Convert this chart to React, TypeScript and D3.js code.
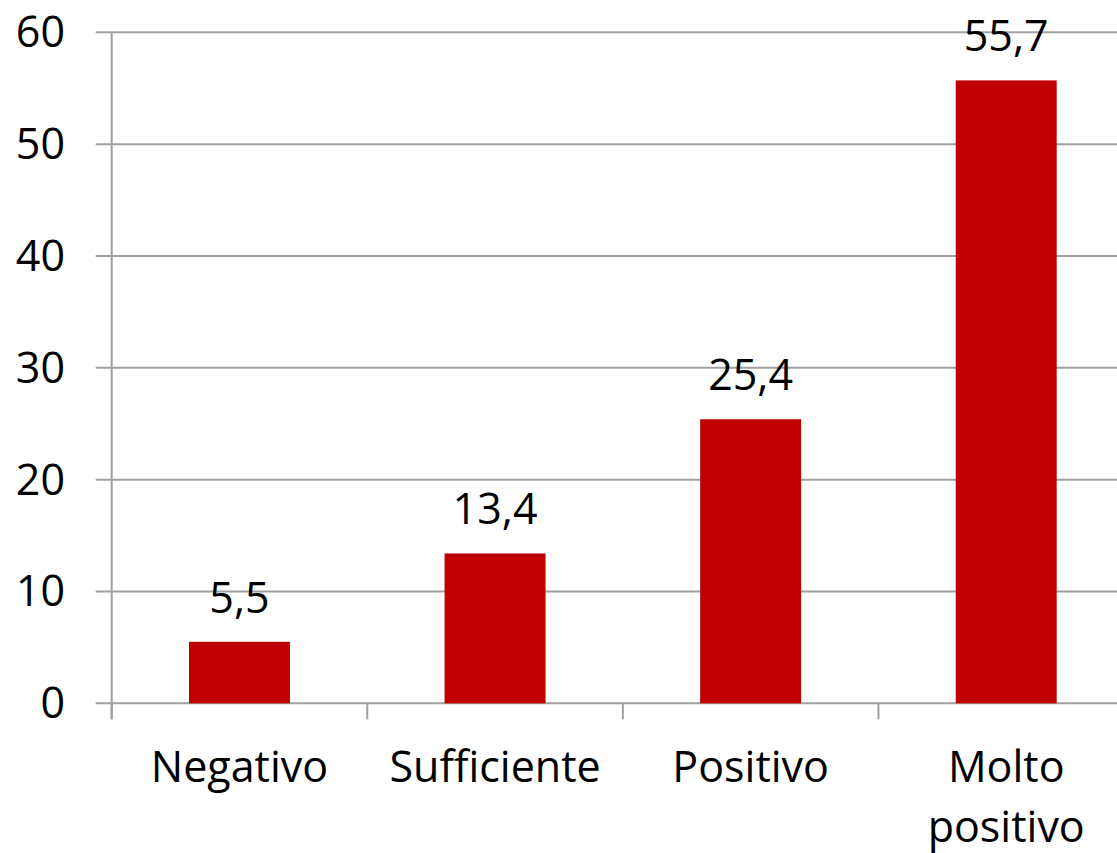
import React, { useEffect, useRef } from 'react';
import * as d3 from 'd3';

// chart data
const categories = ['Negativo', 'Sufficiente', 'Positivo', 'Molto positivo'];
const values = [5.5, 13.4, 25.4, 55.7];
const yTicks = [0, 10, 20, 30, 40, 50, 60];

const W = 1117;
const H = 853;
const FONT = '"Open Sans", sans-serif';

function App() {
  const ref = useRef<SVGSVGElement>(null);

  useEffect(() => {
    const svg = d3.select(ref.current);
    svg.selectAll('*').remove();

    var margin = { top: 32.3, left: 111.7, bottom: 149.7 };
    var plotRight = 1134; // plot runs past the canvas edge
    var height = H - margin.top - margin.bottom;

    var x = d3.scaleBand<string>()
      .domain(categories)
      .range([margin.left, plotRight])
      .paddingInner(0.605)
      .paddingOuter(0.3025);

    var bandStep = (plotRight - margin.left) / categories.length;

    var y = d3.scaleLinear()
      .domain([0, 60])
      .range([margin.top + height, margin.top]);

    // gridlines + left ticks
    svg.append('g')
      .selectAll('line')
      .data(yTicks)
      .enter()
      .append('line')
      .attr('x1', margin.left - 16)
      .attr('x2', W)
      .attr('y1', d => y(d))
      .attr('y2', d => y(d))
      .attr('stroke', '#a0a0a0')
      .attr('stroke-width', 2);

    // y axis line
    svg.append('line')
      .attr('x1', margin.left)
      .attr('x2', margin.left)
      .attr('y1', y(60))
      .attr('y2', y(0) + 16)
      .attr('stroke', '#a0a0a0')
      .attr('stroke-width', 2);

    // category ticks below axis
    svg.append('g')
      .selectAll('line')
      .data(categories)
      .enter()
      .append('line')
      .attr('x1', (d, i) => margin.left + bandStep * i)
      .attr('x2', (d, i) => margin.left + bandStep * i)
      .attr('y1', y(0))
      .attr('y2', y(0) + 16)
      .attr('stroke', '#a0a0a0')
      .attr('stroke-width', 2);

    // y labels
    svg.append('g')
      .selectAll('text')
      .data(yTicks)
      .enter()
      .append('text')
      .attr('x', 65)
      .attr('y', d => y(d) + 15)
      .attr('text-anchor', 'end')
      .style('font-family', FONT)
      .style('font-size', '43px')
      .attr('fill', '#000')
      .text(d => d);

    // bars
    svg.append('g')
      .selectAll('rect')
      .data(values)
      .enter()
      .append('rect')
      .attr('x', (d, i) => x(categories[i])!)
      .attr('width', x.bandwidth())
      .attr('y', d => y(d))
      .attr('height', d => y(0) - y(d))
      .attr('fill', '#c00000');

    // value labels
    svg.append('g')
      .selectAll('text')
      .data(values)
      .enter()
      .append('text')
      .attr('x', (d, i) => x(categories[i])! + x.bandwidth() / 2)
      .attr('y', d => y(d) - 29)
      .attr('text-anchor', 'middle')
      .style('font-family', FONT)
      .style('font-size', '43px')
      .attr('fill', '#000')
      .text(d => String(d).replace('.', ','));

    // category labels (wrap "Molto positivo")
    categories.forEach((c, i) => {
      var cx = x(c)! + x.bandwidth() / 2;
      var words = c === 'Molto positivo' ? ['Molto', 'positivo'] : [c];
      words.forEach((w, j) => {
        svg.append('text')
          .attr('x', cx)
          .attr('y', 782 + j * 60)
          .attr('text-anchor', 'middle')
          .style('font-family', FONT)
          .style('font-size', '43px')
          .attr('fill', '#000')
          .text(w);
      });
    });
  }, []);

  return (
    <svg
      ref={ref}
      width={W}
      height={H}
      style={{ position: 'absolute', left: 0, top: 0, background: '#fff' }}
    />
  );
}

export default App;
